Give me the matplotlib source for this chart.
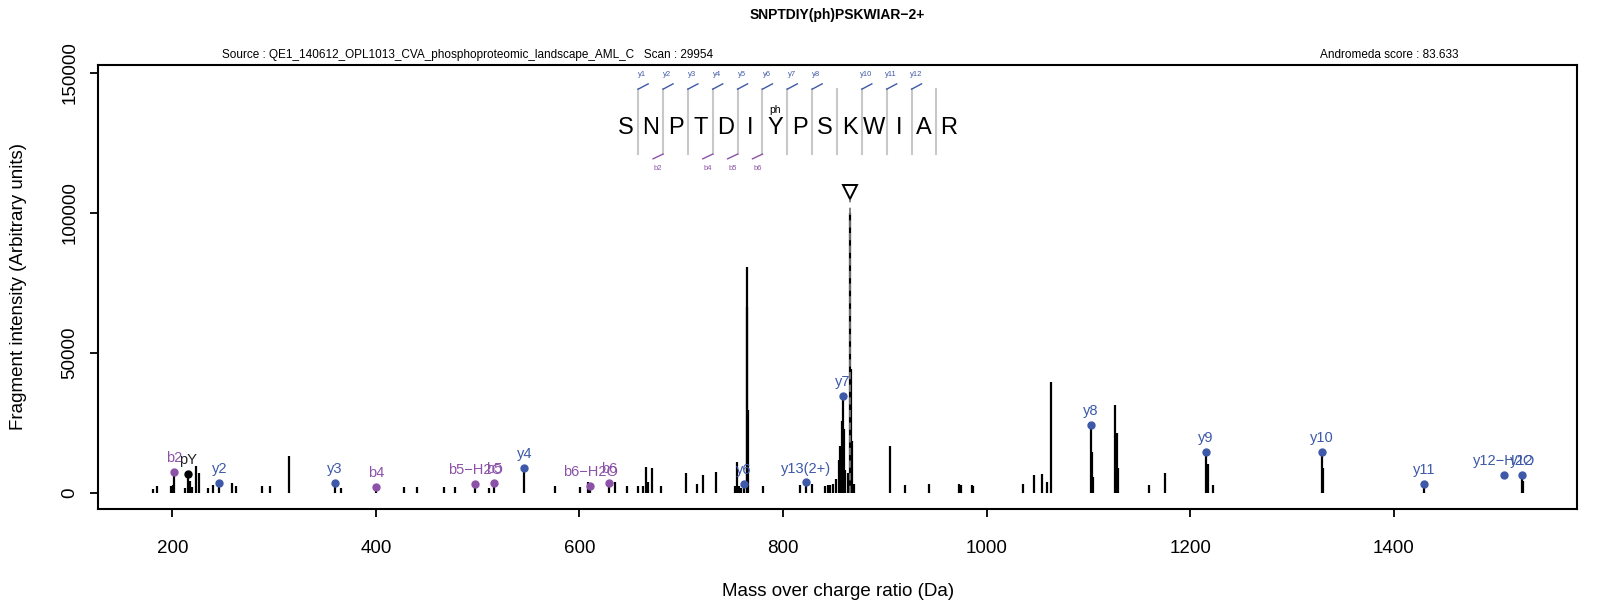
import matplotlib
matplotlib.use("Agg")
import matplotlib.pyplot as plt
import numpy as np

plt.rcParams['font.family'] = ['Liberation Sans', 'DejaVu Sans']

# spectrum peaks (m/z, intensity)
peaks_mz = [180.9, 185.4, 198.7, 200.5, 201.7, 212.5, 215.7, 217.4, 219.7, 223.3,
            225.9, 235.4, 240.3, 246.2, 258.4, 262.3, 288.4, 296.3, 314.7, 359.6,
            365.8, 400.1, 427.6, 440.8, 466.7, 478.1, 497.8, 511.5, 516.1, 545.9,
            576.1, 600.6, 608.1, 610.4, 629.4, 635.0, 647.1, 657.2, 662.2, 665.4,
            667.7, 671.0, 679.9, 704.4, 715.8, 721.1, 734.2, 753.2, 754.5, 756.5,
            759.0, 761.6, 764.4, 764.9, 765.8, 779.9, 816.7, 822.3, 828.2, 841.2,
            843.9, 846.2, 849.5, 852.5, 855.0, 856.4, 857.5, 858.7, 860.0, 861.4,
            864.2, 866.0, 867.3, 868.1, 869.5, 904.8, 919.8, 943.1, 972.9, 974.6,
            985.4, 986.2, 1036.1, 1046.5, 1054.5, 1059.1, 1063.3, 1102.3, 1103.9, 1104.9,
            1126.5, 1127.9, 1128.9, 1159.6, 1175.8, 1215.4, 1217.3, 1222.3, 1329.3, 1330.2,
            1429.8, 1526.2, 1526.8]
peaks_int = [1430, 2260, 2500, 2600, 7400, 1670, 6700, 4050, 2020, 9640,
             7020, 1550, 2620, 3450, 3450, 2500, 2380, 2500, 13200, 3350,
             1670, 1900, 1900, 1900, 2140, 2140, 3200, 1790, 3450, 8950,
             2260, 1900, 3700, 2260, 3450, 3900, 2500, 2300, 2500, 9100,
             3600, 8900, 2400, 7000, 2900, 6300, 7400, 2400, 10800, 2500,
             1800, 2900, 80800, 66500, 29600, 2400, 2800, 3600, 2900, 2400,
             2600, 2800, 3100, 5000, 11500, 16500, 25600, 34400, 22700, 8200,
             7100, 99900, 44000, 18300, 3000, 16600, 2600, 2900, 2900, 2700,
             2600, 2400, 3200, 6200, 6700, 3900, 39600, 24300, 14500, 5400,
             31300, 21200, 8600, 2600, 7100, 14350, 10100, 2600, 14400, 8600,
             3200, 6400, 4000]

# annotated fragment ions
ion_labels = ["b2", "pY", "y2", "y3", "b4", "b5\u2212H2O", "b5", "y4", "b6\u2212H2O", "b6",
              "y6", "y7", "y13(2+)", "y8", "y9", "y10", "y11", "y12\u2212H2O", "y12"]
ion_mz = [201.7, 215.7, 246.2, 359.6, 400.1, 497.8, 516.1, 545.9, 610.4, 629.4,
          761.6, 858.7, 822.3, 1102.3, 1215.4, 1329.3, 1429.8, 1508.1, 1526.2]
ion_int = [7400, 6700, 3450, 3350, 1900, 3200, 3450, 8950, 2260, 3450,
           2900, 34400, 3600, 24300, 14350, 14400, 3200, 6400, 6400]
ion_type = ["b", "imm", "y", "y", "b", "b", "b", "y", "b", "b",
            "y", "y", "y", "y", "y", "y", "y", "y", "y"]

precursor_mz = 866.0

sequence = list("SNPTDIYPSKWIAR")
y_marks = [1, 2, 3, 4, 5, 6, 7, 8, None, 10, 11, 12, None]
b_marks = [None, 2, None, 4, 5, 6, None, None, None, None, None, None, None]

colors = {"y": "#3d59a8", "b": "#8c52a8", "imm": "black"}

fig = plt.figure(figsize=(15.97, 6.09), dpi=100)
ax = fig.add_axes([0.0614, 0.1642, 0.9263, 0.7296])

ax.vlines(peaks_mz, 0, peaks_int, color="black", lw=1.6)
ax.vlines([precursor_mz], 0, 105000, color="#777777", lw=1.3, linestyles=(0, (4, 3)))
ax.plot([precursor_mz], [107500], marker="v", ms=10, mfc="white", mec="black", mew=1.4)

for lab, mz, it, t in zip(ion_labels, ion_mz, ion_int, ion_type):
    c = colors[t]
    ax.plot(mz, it, "o", color=c, ms=5)
    ax.annotate(lab, (mz, it), xytext=(0, 5), textcoords="offset points",
                ha="center", va="bottom", color="#222222" if t == "imm" else c, fontsize=10.5)

# peptide sequence with fragment markers
x0, step = 645.5, 24.42
y_letter, y_top, y_bot = 130400, 144200, 121000
for i, aa in enumerate(sequence):
    ax.text(x0 + i * step, y_letter, aa, ha="center", va="center", fontsize=17)
ax.text(x0 + 6 * step, 136600, "ph", ha="center", va="center", fontsize=7.5)
for i in range(len(sequence) - 1):
    xd = x0 + (i + 0.5) * step
    ax.plot([xd, xd], [y_bot, y_top], color="#c8c8c8", lw=1.5)
    if y_marks[i] is not None:
        ax.plot([xd, xd + 9.8], [y_top, y_top + 1900], color=colors["y"], lw=1)
        ax.text(xd + 4.2, 149300, "y%d" % y_marks[i], color=colors["y"],
                ha="center", va="center", fontsize=5.5)
    if b_marks[i] is not None:
        ax.plot([xd, xd - 9.8], [y_bot, y_bot - 1700], color=colors["b"], lw=1)
        ax.text(xd - 4.9, 116000, "b%d" % b_marks[i], color=colors["b"],
                ha="center", va="center", fontsize=5.5)

ax.set_xlim(127, 1580.5)
ax.set_ylim(-5880, 152960)
ax.set_xticks([200, 400, 600, 800, 1000, 1200, 1400])
ax.set_yticks([0, 50000, 100000, 150000])
ax.set_yticklabels(["0", "50000", "100000", "150000"], rotation=90, va="center")
ax.tick_params(labelsize=13.5, length=6, width=1.3, pad=8)
ax.tick_params(axis="x", pad=16)
for s in ax.spines.values():
    s.set_linewidth(1.5)
ax.set_xlabel("Mass over charge ratio (Da)", fontsize=13.5, labelpad=19)
ax.set_ylabel("Fragment intensity (Arbitrary units)", fontsize=13.5, labelpad=25)

fig.text(0.5245, 0.975, "SNPTDIY(ph)PSKWIAR\u22122+", ha="center", va="center",
         fontsize=10, fontweight="bold")
fig.text(222 / 1597, 0.909, "Source : QE1_140612_OPL1013_CVA_phosphoproteomic_landscape_AML_C   Scan : 29954",
         ha="left", va="center", fontsize=8.5)
fig.text(1459 / 1597, 0.909, "Andromeda score : 83.633", ha="right", va="center", fontsize=8.5)

fig.savefig("out.png", dpi=100)
